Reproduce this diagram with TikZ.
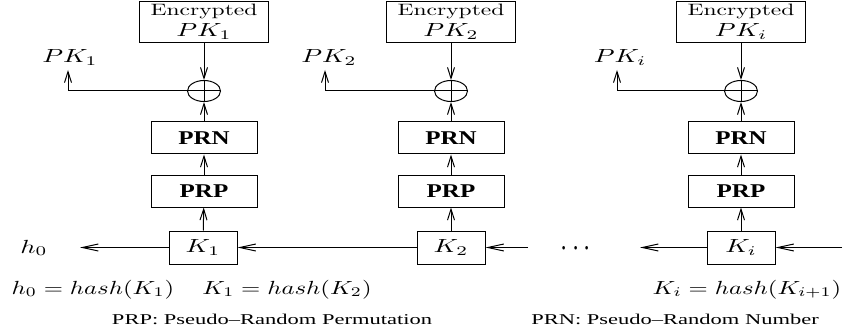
\documentclass[tikz,border=0pt]{standalone}
\usepackage{fontspec}
\usepackage{graphicx}
\newfontfamily\tms{Liberation Serif}
\usetikzlibrary{shapes.geometric,arrows.meta}
\newcommand\enc{\scalebox{2.35}[1.65]{Encrypted}}
\newcommand\mth[1]{\scalebox{2.66}[1.9]{$#1$}}
\newcommand\meq[1]{\scalebox{2.47}[1.9]{$#1$}}
\newcommand\bfn[1]{\scalebox{2.5}[1.95]{\tms\bfseries #1}}
\newcommand\capt[1]{\scalebox{2.25}[1.5]{\tms #1}}
\begin{document}
\begin{tikzpicture}[x=1pt,y=-1pt,line width=1pt,
  box/.style={draw,inner sep=0pt},
  va/.style={-{Straight Barb[length=11pt,width=7pt]}},
  ha/.style={-{Straight Barb[length=16pt,width=7pt]}},
  xo/.style={draw,ellipse,inner sep=0pt,minimum width=33pt,minimum height=21pt},
  txt/.style={inner sep=0pt,anchor=base}]
\useasboundingbox (0,0) rectangle (854,334);
% column 1
\node[box,minimum width=129pt,minimum height=41pt] (e1) at (204,22.5) {};
\node[txt] (e1a) at (204,15.5) {\enc};
\node[txt] (e1b) at (204,37) {\mth{PK_1}};
\node[xo] (x1) at (204,91) {};
\node[box,minimum width=106pt,minimum height=32pt] (n1) at (204,138) {\bfn{PRN}};
\node[box,minimum width=106pt,minimum height=32pt] (p1) at (204,191) {\bfn{PRP}};
\node[box,minimum width=68pt,minimum height=33pt] (k1) at (203,247.5) {\mth{K_1}};
\node[txt] (pk1) at (70,63) {\mth{PK_1}};
\coordinate (b1) at (68,91);
\coordinate (t1) at (68,70);
% column 2
\node[box,minimum width=129pt,minimum height=41pt] (e2) at (451,22.5) {};
\node[txt] (e2a) at (451,15.5) {\enc};
\node[txt] (e2b) at (451,37) {\mth{PK_2}};
\node[xo] (x2) at (451,91) {};
\node[box,minimum width=106pt,minimum height=32pt] (n2) at (451,138) {\bfn{PRN}};
\node[box,minimum width=106pt,minimum height=32pt] (p2) at (451,191) {\bfn{PRP}};
\node[box,minimum width=68pt,minimum height=33pt] (k2) at (451,247.5) {\mth{K_2}};
\node[txt] (pk2) at (329,63) {\mth{PK_2}};
\coordinate (b2) at (325,91);
\coordinate (t2) at (325,70);
% column 3
\node[box,minimum width=129pt,minimum height=41pt] (e3) at (741,22.5) {};
\node[txt] (e3a) at (741,15.5) {\enc};
\node[txt] (e3b) at (741,37) {\mth{PK_i}};
\node[xo] (x3) at (741,91) {};
\node[box,minimum width=106pt,minimum height=32pt] (n3) at (741,138) {\bfn{PRN}};
\node[box,minimum width=106pt,minimum height=32pt] (p3) at (741,191) {\bfn{PRP}};
\node[box,minimum width=68pt,minimum height=33pt] (k3) at (741,247.5) {\mth{K_i}};
\node[txt] (pk3) at (620,63) {\mth{PK_i}};
\coordinate (b3) at (617,91);
\coordinate (t3) at (617,70);
% connectors
\foreach \i in {1,2,3}{
  \draw (x\i.west) -- (x\i.east);
  \draw[va] (e\i) -- (x\i.north);
  \draw (x\i.north) -- (x\i.south);
  \draw[va] (n\i) -- (x\i.south);
  \draw[va] (p\i) -- (n\i);
  \draw[va] (k\i) -- (p\i);
  \draw[va] (x\i.west) -- (b\i) -- (t\i);
}
% chain
\node[txt] (h0) at (34,253) {\mth{h_0}};
\coordinate (h0a) at (80,247.5);
\draw[ha] (k1) -- (h0a);
\draw[ha] (k2) -- (k1);
\coordinate (r2) at (528,247.5);
\draw[ha] (r2) -- (k2);
\node[txt] (dots) at (576,256) {\scalebox{2.6}[3.3]{$\cdots$}};
\coordinate (l3) at (640,247.5);
\draw[ha] (k3) -- (l3);
\coordinate (r3) at (842,247.5);
\draw[ha] (r3) -- (k3);
% equations
\node[txt] (eq1) at (93,294) {\meq{h_0 = hash(K_1)}};
\node[txt] (eq2) at (287,294) {\meq{K_1 = hash(K_2)}};
\node[txt] (eq3) at (747,294) {\meq{K_i = hash(K_{i+1})}};
\node[txt] (c1) at (272,324) {\capt{PRP: Pseudo–Random Permutation}};
\node[txt] (c2) at (675,324) {\capt{PRN: Pseudo–Random Number}};
\end{tikzpicture}
\end{document}
